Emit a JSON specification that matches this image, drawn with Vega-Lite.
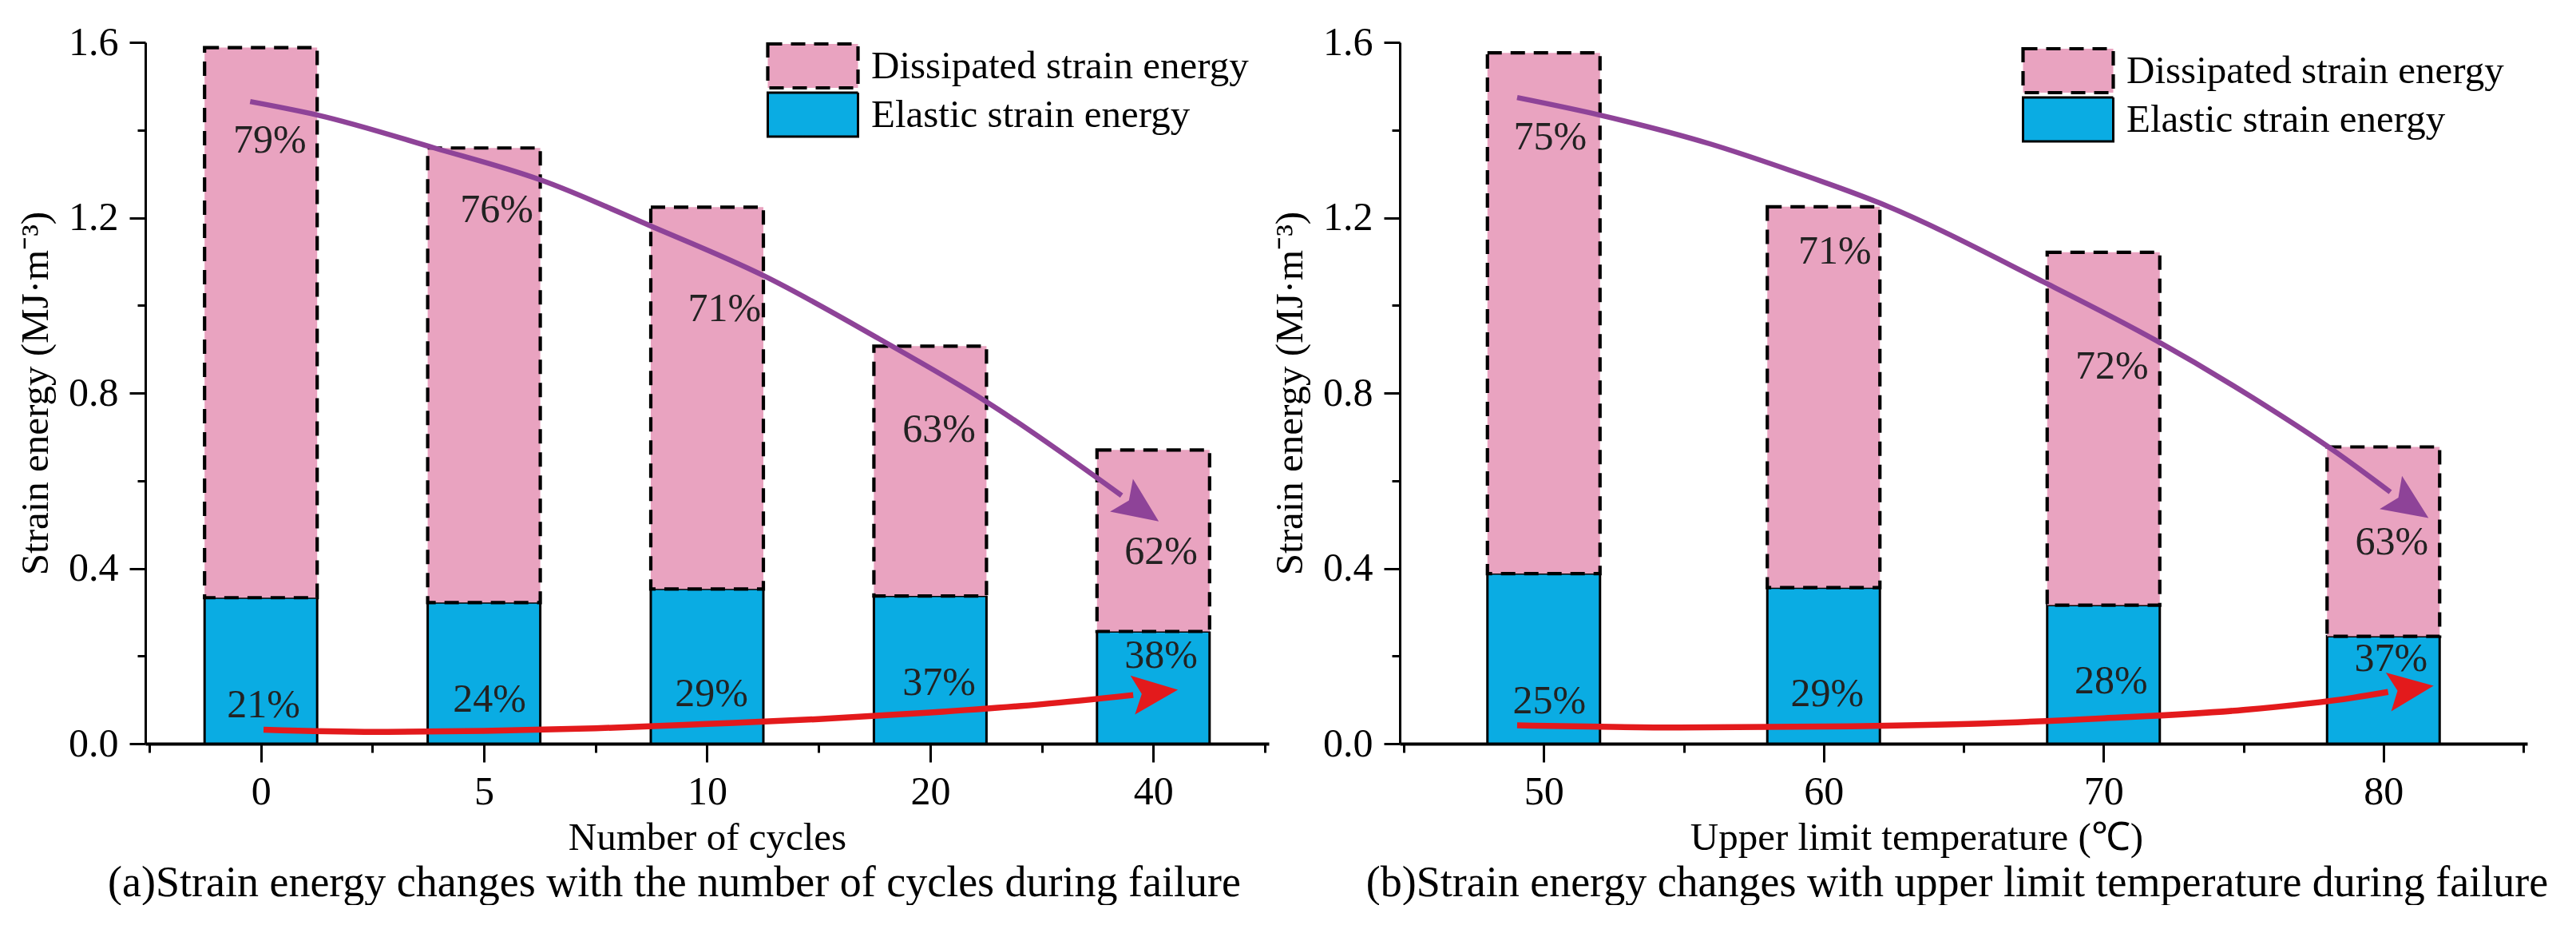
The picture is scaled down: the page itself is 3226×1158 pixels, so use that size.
{
  "$schema": "https://vega.github.io/schema/vega-lite/v6.json",
  "background": "white",
  "padding": {"left": 20, "top": 28, "right": 0, "bottom": 0},
  "spacing": 2,
  "config": {
    "view": {"stroke": null},
    "font": "Liberation Serif",
    "text": {"font": "Liberation Serif"},
    "axis": {
      "grid": false,
      "labelFont": "Liberation Serif",
      "titleFont": "Liberation Serif",
      "labelFontSize": 50,
      "titleFontSize": 49,
      "labelColor": "black",
      "titleColor": "black",
      "titleFontWeight": "normal",
      "domainColor": "black",
      "tickColor": "black",
      "tickWidth": 3
    },
    "legend": {
      "labelFont": "Liberation Serif"
    }
  },
  "datasets": {
    "barsA": [
      {"cycles": "0", "idx": 0, "type": "Elastic strain energy", "energy": 0.333},
      {"cycles": "5", "idx": 1, "type": "Elastic strain energy", "energy": 0.322},
      {"cycles": "10", "idx": 2, "type": "Elastic strain energy", "energy": 0.353},
      {"cycles": "20", "idx": 3, "type": "Elastic strain energy", "energy": 0.337},
      {"cycles": "40", "idx": 4, "type": "Elastic strain energy", "energy": 0.256},
      {"cycles": "0", "idx": 0, "type": "Dissipated strain energy", "energy": 1.255},
      {"cycles": "5", "idx": 1, "type": "Dissipated strain energy", "energy": 1.037},
      {"cycles": "10", "idx": 2, "type": "Dissipated strain energy", "energy": 0.871},
      {"cycles": "20", "idx": 3, "type": "Dissipated strain energy", "energy": 0.570},
      {"cycles": "40", "idx": 4, "type": "Dissipated strain energy", "energy": 0.414}
    ],
    "barsB": [
      {"temp": "50", "idx": 0, "type": "Elastic strain energy", "energy": 0.388},
      {"temp": "60", "idx": 1, "type": "Elastic strain energy", "energy": 0.356},
      {"temp": "70", "idx": 2, "type": "Elastic strain energy", "energy": 0.316},
      {"temp": "80", "idx": 3, "type": "Elastic strain energy", "energy": 0.245},
      {"temp": "50", "idx": 0, "type": "Dissipated strain energy", "energy": 1.188},
      {"temp": "60", "idx": 1, "type": "Dissipated strain energy", "energy": 0.869},
      {"temp": "70", "idx": 2, "type": "Dissipated strain energy", "energy": 0.805},
      {"temp": "80", "idx": 3, "type": "Dissipated strain energy", "energy": 0.432}
    ],
    "pctA": [
      {"lx": 0.04, "ly": 1.375, "pct": "79%"},
      {"lx": 1.057, "ly": 1.217, "pct": "76%"},
      {"lx": 2.078, "ly": 0.992, "pct": "71%"},
      {"lx": 3.04, "ly": 0.716, "pct": "63%"},
      {"lx": 4.035, "ly": 0.437, "pct": "62%"},
      {"lx": 0.012, "ly": 0.087, "pct": "21%"},
      {"lx": 1.025, "ly": 0.100, "pct": "24%"},
      {"lx": 2.02, "ly": 0.113, "pct": "29%"},
      {"lx": 3.04, "ly": 0.139, "pct": "37%"},
      {"lx": 4.035, "ly": 0.200, "pct": "38%"}
    ],
    "pctB": [
      {"lx": 0.023, "ly": 1.383, "pct": "75%"},
      {"lx": 1.04, "ly": 1.123, "pct": "71%"},
      {"lx": 2.03, "ly": 0.861, "pct": "72%"},
      {"lx": 3.03, "ly": 0.460, "pct": "63%"},
      {"lx": 0.02, "ly": 0.097, "pct": "25%"},
      {"lx": 1.013, "ly": 0.113, "pct": "29%"},
      {"lx": 2.027, "ly": 0.143, "pct": "28%"},
      {"lx": 3.027, "ly": 0.194, "pct": "37%"}
    ],
    "purpleA": [
      {"cx": -0.048, "cy": 1.465},
      {"cx": 0.255, "cy": 1.434},
      {"cx": 0.778, "cy": 1.359},
      {"cx": 1.254, "cy": 1.286},
      {"cx": 1.752, "cy": 1.180},
      {"cx": 2.252, "cy": 1.068},
      {"cx": 2.773, "cy": 0.923},
      {"cx": 3.252, "cy": 0.780},
      {"cx": 3.858, "cy": 0.566}
    ],
    "redA": [
      {"cx": 0.012, "cy": 0.032},
      {"cx": 0.507, "cy": 0.027},
      {"cx": 1.0, "cy": 0.029},
      {"cx": 1.5, "cy": 0.035},
      {"cx": 2.0, "cy": 0.045},
      {"cx": 2.5, "cy": 0.056},
      {"cx": 3.0, "cy": 0.071},
      {"cx": 3.5, "cy": 0.090},
      {"cx": 3.91, "cy": 0.111}
    ],
    "purpleB": [
      {"cx": -0.095, "cy": 1.474},
      {"cx": 0.201, "cy": 1.434},
      {"cx": 0.591, "cy": 1.369},
      {"cx": 0.88, "cy": 1.308},
      {"cx": 1.198, "cy": 1.234},
      {"cx": 1.787, "cy": 1.053},
      {"cx": 2.19, "cy": 0.919},
      {"cx": 2.534, "cy": 0.789},
      {"cx": 2.833, "cy": 0.664},
      {"cx": 3.025, "cy": 0.574}
    ],
    "redB": [
      {"cx": -0.095, "cy": 0.042},
      {"cx": 0.485, "cy": 0.037},
      {"cx": 1.0, "cy": 0.039},
      {"cx": 1.57, "cy": 0.046},
      {"cx": 2.0, "cy": 0.058},
      {"cx": 2.5, "cy": 0.077},
      {"cx": 2.894, "cy": 0.105},
      {"cx": 3.017, "cy": 0.118}
    ],
    "headsA": [
      {"arrow": "purple", "cx": 3.941, "cy": 0.537},
      {"arrow": "red", "cx": 4.009, "cy": 0.117}
    ],
    "headsB": [
      {"arrow": "purple", "cx": 3.094, "cy": 0.544},
      {"arrow": "red", "cx": 3.099, "cy": 0.125}
    ]
  },
  "hconcat": [
    {
      "width": 1407,
      "height": 878,
      "title": {
        "text": "(a)Strain energy changes with the number of cycles during failure",
        "orient": "bottom",
        "font": "Liberation Serif",
        "fontSize": 54,
        "fontWeight": "normal",
        "color": "black",
        "offset": 6,
        "dx": -41
      },
      "layer": [
        {
          "data": {"name": "barsA"},
          "mark": {"type": "bar", "size": 141, "stroke": "black"},
          "encoding": {
            "x": {
              "field": "idx",
              "type": "quantitative",
              "scale": {"domain": [-0.5, 4.5], "nice": false, "zero": false},
              "axis": {
                "title": "Number of cycles",
                "labelFont": "Liberation Serif",
                "titleFont": "Liberation Serif",
                "values": [-0.5, 0, 0.5, 1, 1.5, 2, 2.5, 3, 3.5, 4, 4.5],
                "labelExpr": "datum.value % 1 == 0 ? ['0','5','10','20','40'][datum.value] : ''",
                "tickSize": {"condition": {"test": "datum.value % 1 == 0", "value": 23}, "value": 11},
                "domainWidth": 4,
                "labelPadding": 12,
                "titlePadding": 8,
                "labelFlush": false,
                "labelOverlap": false
              }
            },
            "y": {
              "field": "energy",
              "type": "quantitative",
              "stack": "zero",
              "scale": {"domain": [0, 1.6], "nice": false},
              "axis": {
                "title": "Strain energy (MJ·m⁻³)",
                "labelFont": "Liberation Serif",
                "titleFont": "Liberation Serif",
                "values": [0, 0.2, 0.4, 0.6, 0.8, 1.0, 1.2, 1.4, 1.6],
                "labelExpr": "round(datum.value * 10) % 4 == 0 ? format(datum.value, '.1f') : ''",
                "tickSize": {"condition": {"test": "round(datum.value * 10) % 4 == 0", "value": 20}, "value": 10},
                "domainWidth": 3,
                "labelPadding": 14,
                "titlePadding": 16,
                "labelOverlap": false
              }
            },
            "color": {
              "field": "type",
              "type": "nominal",
              "scale": {"domain": ["Dissipated strain energy", "Elastic strain energy"], "range": ["#E9A3C0", "#0AACE3"]},
              "legend": {
                "orient": "none", "legendX": 777, "legendY": 0, "title": null,
                "symbolType": "M-1,-0.487L1,-0.487L1,0.487L-1,0.487Z", "symbolSize": 12769,
                "symbolStrokeColor": "black", "symbolStrokeWidth": 3.5, "clipHeight": 59,
                "labelFont": "Liberation Serif", "labelFontSize": 49, "labelColor": "black", "labelOffset": 14,
                "rowPadding": 2, "padding": 0, "offset": 0, "labelLimit": 900,
                "encode": {
                  "symbols": {
                    "update": {
                      "stroke": {"value": "black"},
                      "strokeWidth": {"value": 3.5},
                      "strokeDash": {"signal": "datum.value == 'Dissipated strain energy' ? [14, 8] : [1, 0]"}
                    }
                  }
                }
              }
            },
            "strokeDash": {
              "field": "type",
              "type": "nominal",
              "scale": {"domain": ["Dissipated strain energy", "Elastic strain energy"], "range": [[18, 11], [1, 0]]},
              "legend": {
                "orient": "none", "legendX": 777, "legendY": 0, "title": null,
                "symbolType": "M-1,-0.487L1,-0.487L1,0.487L-1,0.487Z", "symbolSize": 12769,
                "symbolStrokeColor": "black", "symbolStrokeWidth": 3.5, "clipHeight": 59,
                "labelFont": "Liberation Serif", "labelFontSize": 49, "labelColor": "black", "labelOffset": 14,
                "rowPadding": 2, "padding": 0, "offset": 0, "labelLimit": 900,
                "encode": {
                  "symbols": {
                    "update": {
                      "stroke": {"value": "black"},
                      "strokeWidth": {"value": 3.5},
                      "strokeDash": {"signal": "datum.value == 'Dissipated strain energy' ? [14, 8] : [1, 0]"}
                    }
                  }
                }
              }
            },
            "strokeWidth": {
              "field": "type",
              "type": "nominal",
              "scale": {"domain": ["Dissipated strain energy", "Elastic strain energy"], "range": [4.2, 3]},
              "legend": null
            },
            "order": {"field": "type", "sort": "descending"}
          }
        },
        {
          "data": {"name": "purpleA"},
          "mark": {"type": "line", "color": "#8E4398", "strokeWidth": 6.5, "interpolate": "monotone"},
          "encoding": {
            "x": {"field": "cx", "type": "quantitative"},
            "y": {"field": "cy", "type": "quantitative"}
          }
        },
        {
          "data": {"name": "redA"},
          "mark": {"type": "line", "color": "#E31A1C", "strokeWidth": 7.5, "interpolate": "monotone"},
          "encoding": {
            "x": {"field": "cx", "type": "quantitative"},
            "y": {"field": "cy", "type": "quantitative"}
          }
        },
        {
          "data": {"name": "headsA"},
          "transform": [{"filter": "datum.arrow == 'purple'"}],
          "mark": {"type": "point", "shape": "M1,0L-1,-0.88L-0.6,0L-1,0.88Z", "size": 3249, "angle": 35, "filled": true, "color": "#8E4398", "opacity": 1},
          "encoding": {
            "x": {"field": "cx", "type": "quantitative"},
            "y": {"field": "cy", "type": "quantitative"}
          }
        },
        {
          "data": {"name": "headsA"},
          "transform": [{"filter": "datum.arrow == 'red'"}],
          "mark": {"type": "point", "shape": "M1,0L-1,-0.86L-0.6,0L-1,0.86Z", "size": 3249, "angle": -6.6, "filled": true, "color": "#E31A1C", "opacity": 1},
          "encoding": {
            "x": {"field": "cx", "type": "quantitative"},
            "y": {"field": "cy", "type": "quantitative"}
          }
        },
        {
          "data": {"name": "pctA"},
          "mark": {"type": "text", "font": "Liberation Serif", "fontSize": 50, "color": "#222222"},
          "encoding": {
            "x": {"field": "lx", "type": "quantitative"},
            "y": {"field": "ly", "type": "quantitative"},
            "text": {"field": "pct"}
          }
        }
      ]
    },
    {
      "width": 1412,
      "height": 878,
      "title": {
        "text": "(b)Strain energy changes with upper limit temperature during failure",
        "orient": "bottom",
        "font": "Liberation Serif",
        "fontSize": 54,
        "fontWeight": "normal",
        "color": "black",
        "offset": 6,
        "dx": -8
      },
      "layer": [
        {
          "data": {"name": "barsB"},
          "mark": {"type": "bar", "size": 141, "stroke": "black"},
          "encoding": {
            "x": {
              "field": "idx",
              "type": "quantitative",
              "scale": {"domain": [-0.5, 3.5], "nice": false, "zero": false},
              "axis": {
                "title": "Upper limit temperature (℃)",
                "labelFont": "Liberation Serif",
                "titleFont": "Liberation Serif",
                "titleX": 647,
                "values": [-0.5, 0, 0.5, 1, 1.5, 2, 2.5, 3, 3.5],
                "labelExpr": "datum.value % 1 == 0 ? ['50','60','70','80'][datum.value] : ''",
                "tickSize": {"condition": {"test": "datum.value % 1 == 0", "value": 23}, "value": 11},
                "domainWidth": 4,
                "labelPadding": 12,
                "titlePadding": 8,
                "labelFlush": false,
                "labelOverlap": false
              }
            },
            "y": {
              "field": "energy",
              "type": "quantitative",
              "stack": "zero",
              "scale": {"domain": [0, 1.6], "nice": false},
              "axis": {
                "title": "Strain energy (MJ·m⁻³)",
                "labelFont": "Liberation Serif",
                "titleFont": "Liberation Serif",
                "values": [0, 0.2, 0.4, 0.6, 0.8, 1.0, 1.2, 1.4, 1.6],
                "labelExpr": "round(datum.value * 10) % 4 == 0 ? format(datum.value, '.1f') : ''",
                "tickSize": {"condition": {"test": "round(datum.value * 10) % 4 == 0", "value": 20}, "value": 10},
                "domainWidth": 3,
                "labelPadding": 14,
                "titlePadding": 16,
                "labelOverlap": false
              }
            },
            "color": {
              "field": "type",
              "type": "nominal",
              "scale": {"domain": ["Dissipated strain energy", "Elastic strain energy"], "range": ["#E9A3C0", "#0AACE3"]},
              "legend": {
                "orient": "none", "legendX": 778, "legendY": 6, "title": null,
                "symbolType": "M-1,-0.487L1,-0.487L1,0.487L-1,0.487Z", "symbolSize": 12769,
                "symbolStrokeColor": "black", "symbolStrokeWidth": 3.5, "clipHeight": 59,
                "labelFont": "Liberation Serif", "labelFontSize": 49, "labelColor": "black", "labelOffset": 14,
                "rowPadding": 2, "padding": 0, "offset": 0, "labelLimit": 900,
                "encode": {
                  "symbols": {
                    "update": {
                      "stroke": {"value": "black"},
                      "strokeWidth": {"value": 3.5},
                      "strokeDash": {"signal": "datum.value == 'Dissipated strain energy' ? [14, 8] : [1, 0]"}
                    }
                  }
                }
              }
            },
            "strokeDash": {
              "field": "type",
              "type": "nominal",
              "scale": {"domain": ["Dissipated strain energy", "Elastic strain energy"], "range": [[18, 11], [1, 0]]},
              "legend": {
                "orient": "none", "legendX": 778, "legendY": 6, "title": null,
                "symbolType": "M-1,-0.487L1,-0.487L1,0.487L-1,0.487Z", "symbolSize": 12769,
                "symbolStrokeColor": "black", "symbolStrokeWidth": 3.5, "clipHeight": 59,
                "labelFont": "Liberation Serif", "labelFontSize": 49, "labelColor": "black", "labelOffset": 14,
                "rowPadding": 2, "padding": 0, "offset": 0, "labelLimit": 900,
                "encode": {
                  "symbols": {
                    "update": {
                      "stroke": {"value": "black"},
                      "strokeWidth": {"value": 3.5},
                      "strokeDash": {"signal": "datum.value == 'Dissipated strain energy' ? [14, 8] : [1, 0]"}
                    }
                  }
                }
              }
            },
            "strokeWidth": {
              "field": "type",
              "type": "nominal",
              "scale": {"domain": ["Dissipated strain energy", "Elastic strain energy"], "range": [4.2, 3]},
              "legend": null
            },
            "order": {"field": "type", "sort": "descending"}
          }
        },
        {
          "data": {"name": "purpleB"},
          "mark": {"type": "line", "color": "#8E4398", "strokeWidth": 6.5, "interpolate": "monotone"},
          "encoding": {
            "x": {"field": "cx", "type": "quantitative"},
            "y": {"field": "cy", "type": "quantitative"}
          }
        },
        {
          "data": {"name": "redB"},
          "mark": {"type": "line", "color": "#E31A1C", "strokeWidth": 7.5, "interpolate": "monotone"},
          "encoding": {
            "x": {"field": "cx", "type": "quantitative"},
            "y": {"field": "cy", "type": "quantitative"}
          }
        },
        {
          "data": {"name": "headsB"},
          "transform": [{"filter": "datum.arrow == 'purple'"}],
          "mark": {"type": "point", "shape": "M1,0L-1,-0.88L-0.6,0L-1,0.88Z", "size": 3249, "angle": 34, "filled": true, "color": "#8E4398", "opacity": 1},
          "encoding": {
            "x": {"field": "cx", "type": "quantitative"},
            "y": {"field": "cy", "type": "quantitative"}
          }
        },
        {
          "data": {"name": "headsB"},
          "transform": [{"filter": "datum.arrow == 'red'"}],
          "mark": {"type": "point", "shape": "M1,0L-1,-0.86L-0.6,0L-1,0.86Z", "size": 3249, "angle": -7.9, "filled": true, "color": "#E31A1C", "opacity": 1},
          "encoding": {
            "x": {"field": "cx", "type": "quantitative"},
            "y": {"field": "cy", "type": "quantitative"}
          }
        },
        {
          "data": {"name": "pctB"},
          "mark": {"type": "text", "font": "Liberation Serif", "fontSize": 50, "color": "#222222"},
          "encoding": {
            "x": {"field": "lx", "type": "quantitative"},
            "y": {"field": "ly", "type": "quantitative"},
            "text": {"field": "pct"}
          }
        }
      ]
    }
  ],
  "resolve": {
    "scale": {"color": "independent", "strokeDash": "independent", "strokeWidth": "independent"},
    "legend": {"color": "independent", "strokeDash": "independent"}
  }
}
